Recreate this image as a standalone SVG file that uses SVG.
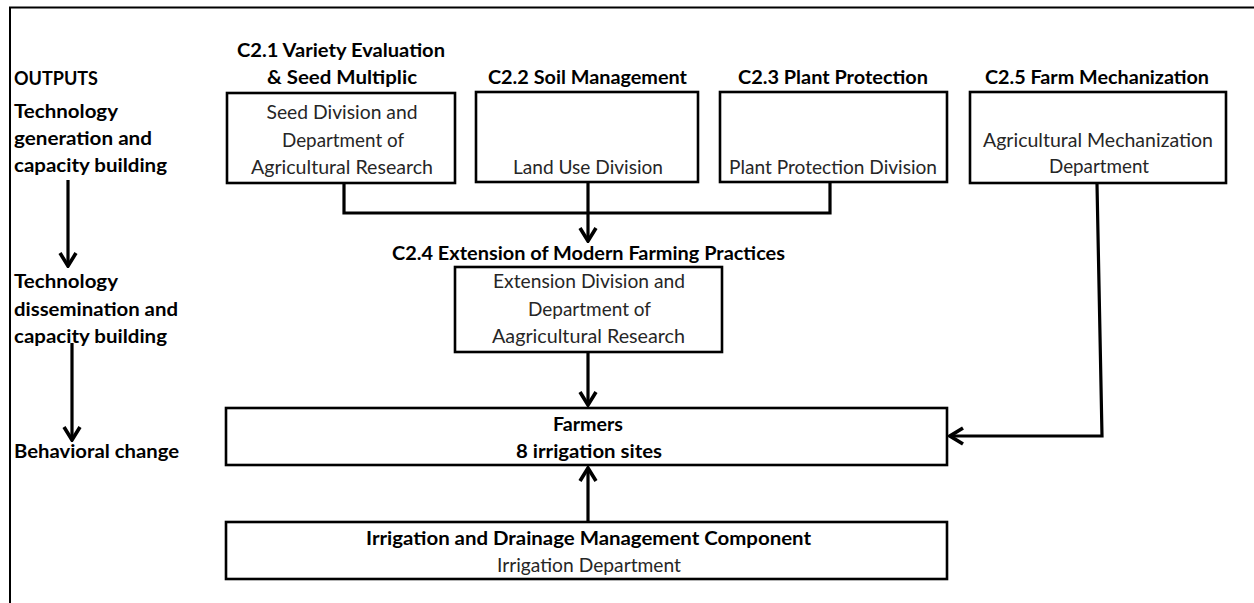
<svg xmlns="http://www.w3.org/2000/svg" width="1254" height="603" viewBox="0 0 1254 603">
  <style>
    .frame { fill: none; stroke: #000; stroke-width: 2; }
    .box { fill: #fff; stroke: #000; stroke-width: 2.6; }
    .wire { fill: none; stroke: #000; stroke-width: 3.2; stroke-linejoin: miter; }
    .lbl { font-family: "Lato", "Liberation Sans", sans-serif; font-weight: bold; font-size: 19px; fill: #000; }
    .hd { font-family: "Lato", "Liberation Sans", sans-serif; font-weight: bold; font-size: 19px; fill: #000; text-anchor: middle; }
    .tx { font-family: "Lato", "Liberation Sans", sans-serif; font-size: 19px; fill: #262626; text-anchor: middle; }
  </style>
  <defs>
    <marker id="arr" viewBox="-16 -10 18 20" refX="0" refY="0" markerWidth="18" markerHeight="20" markerUnits="userSpaceOnUse" orient="auto">
      <path d="M-13,-8 L0,0 L-13,8" fill="none" stroke="#000" stroke-width="3.6" stroke-linejoin="miter"/>
    </marker>
  </defs>

  <rect width="1254" height="603" fill="#fff"/>

  <!-- page frame -->
  <path class="frame" d="M10,603 L10,7.5 L1254,7.5"/>

  <!-- output levels on the left -->
  <g id="levels">
    <text class="lbl" x="14" y="85" textLength="84" lengthAdjust="spacingAndGlyphs">OUTPUTS</text>
    <text class="lbl" x="14" y="118" textLength="104" lengthAdjust="spacingAndGlyphs">Technology</text>
    <text class="lbl" x="14" y="145" textLength="138" lengthAdjust="spacingAndGlyphs">generation and</text>
    <text class="lbl" x="14" y="172" textLength="153" lengthAdjust="spacingAndGlyphs">capacity building</text>
    <text class="lbl" x="14" y="288" textLength="104" lengthAdjust="spacingAndGlyphs">Technology</text>
    <text class="lbl" x="14" y="316" textLength="164" lengthAdjust="spacingAndGlyphs">dissemination and</text>
    <text class="lbl" x="14" y="343" textLength="153" lengthAdjust="spacingAndGlyphs">capacity building</text>
    <text class="lbl" x="14" y="458" textLength="165" lengthAdjust="spacingAndGlyphs">Behavioral change</text>
  </g>

  <!-- C2.1 -->
  <g id="c21">
    <text class="hd" x="341" y="57" textLength="208" lengthAdjust="spacingAndGlyphs">C2.1 Variety Evaluation</text>
    <text class="hd" x="342" y="84" textLength="150" lengthAdjust="spacingAndGlyphs">&amp; Seed Multiplic</text>
    <rect class="box" x="227" y="93" width="228" height="90"/>
    <text class="tx" x="342" y="119" textLength="151" lengthAdjust="spacingAndGlyphs">Seed Division and</text>
    <text class="tx" x="343" y="147" textLength="122" lengthAdjust="spacingAndGlyphs">Department of</text>
    <text class="tx" x="342" y="174" textLength="182" lengthAdjust="spacingAndGlyphs">Agricultural Research</text>
  </g>

  <!-- C2.2 -->
  <g id="c22">
    <text class="hd" x="587.5" y="84" textLength="199" lengthAdjust="spacingAndGlyphs">C2.2 Soil Management</text>
    <rect class="box" x="476" y="92" width="222" height="90"/>
    <text class="tx" x="588" y="174" textLength="150" lengthAdjust="spacingAndGlyphs">Land Use Division</text>
  </g>

  <!-- C2.3 -->
  <g id="c23">
    <text class="hd" x="833" y="84" textLength="190" lengthAdjust="spacingAndGlyphs">C2.3 Plant Protection</text>
    <rect class="box" x="720" y="92" width="227" height="90"/>
    <text class="tx" x="833" y="174" textLength="208" lengthAdjust="spacingAndGlyphs">Plant Protection Division</text>
  </g>

  <!-- C2.5 -->
  <g id="c25">
    <text class="hd" x="1097" y="84" textLength="224" lengthAdjust="spacingAndGlyphs">C2.5 Farm Mechanization</text>
    <rect class="box" x="970" y="92" width="256" height="91"/>
    <text class="tx" x="1098" y="147" textLength="230" lengthAdjust="spacingAndGlyphs">Agricultural Mechanization</text>
    <text class="tx" x="1099" y="173" textLength="100" lengthAdjust="spacingAndGlyphs">Department</text>
  </g>

  <!-- C2.4 -->
  <g id="c24">
    <text class="hd" x="588.5" y="260" textLength="393" lengthAdjust="spacingAndGlyphs">C2.4 Extension of Modern Farming Practices</text>
    <rect class="box" x="455" y="267" width="267" height="85"/>
    <text class="tx" x="589" y="288" textLength="192" lengthAdjust="spacingAndGlyphs">Extension Division and</text>
    <text class="tx" x="589.5" y="316" textLength="123" lengthAdjust="spacingAndGlyphs">Department of</text>
    <text class="tx" x="588.5" y="343" textLength="193" lengthAdjust="spacingAndGlyphs">Aagricultural Research</text>
  </g>

  <!-- Farmers -->
  <g id="farmers">
    <rect class="box" x="226" y="408" width="721" height="57"/>
    <text class="hd" x="588" y="431" textLength="70" lengthAdjust="spacingAndGlyphs">Farmers</text>
    <text class="hd" x="589" y="458" textLength="146" lengthAdjust="spacingAndGlyphs">8 irrigation sites</text>
  </g>

  <!-- Irrigation component -->
  <g id="irrigation">
    <rect class="box" x="226" y="522" width="721" height="57"/>
    <text class="hd" x="588.5" y="545" textLength="445" lengthAdjust="spacingAndGlyphs">Irrigation and Drainage Management Component</text>
    <text class="tx" x="589" y="572" textLength="184" lengthAdjust="spacingAndGlyphs">Irrigation Department</text>
  </g>

  <!-- connectors -->
  <g id="connectors">
    <path class="wire" d="M68,180 L68,266" marker-end="url(#arr)"/>
    <path class="wire" d="M72,343 L72,440" marker-end="url(#arr)"/>
    <path class="wire" d="M344,183 L344,213 L830,213 L830,182"/>
    <path class="wire" d="M588,182 L588,241" marker-end="url(#arr)"/>
    <path class="wire" d="M588,352 L588,405" marker-end="url(#arr)"/>
    <path class="wire" d="M588,522 L588,468" marker-end="url(#arr)"/>
    <path class="wire" d="M1097,184 L1102,436 L950,436" marker-end="url(#arr)"/>
  </g>
</svg>
